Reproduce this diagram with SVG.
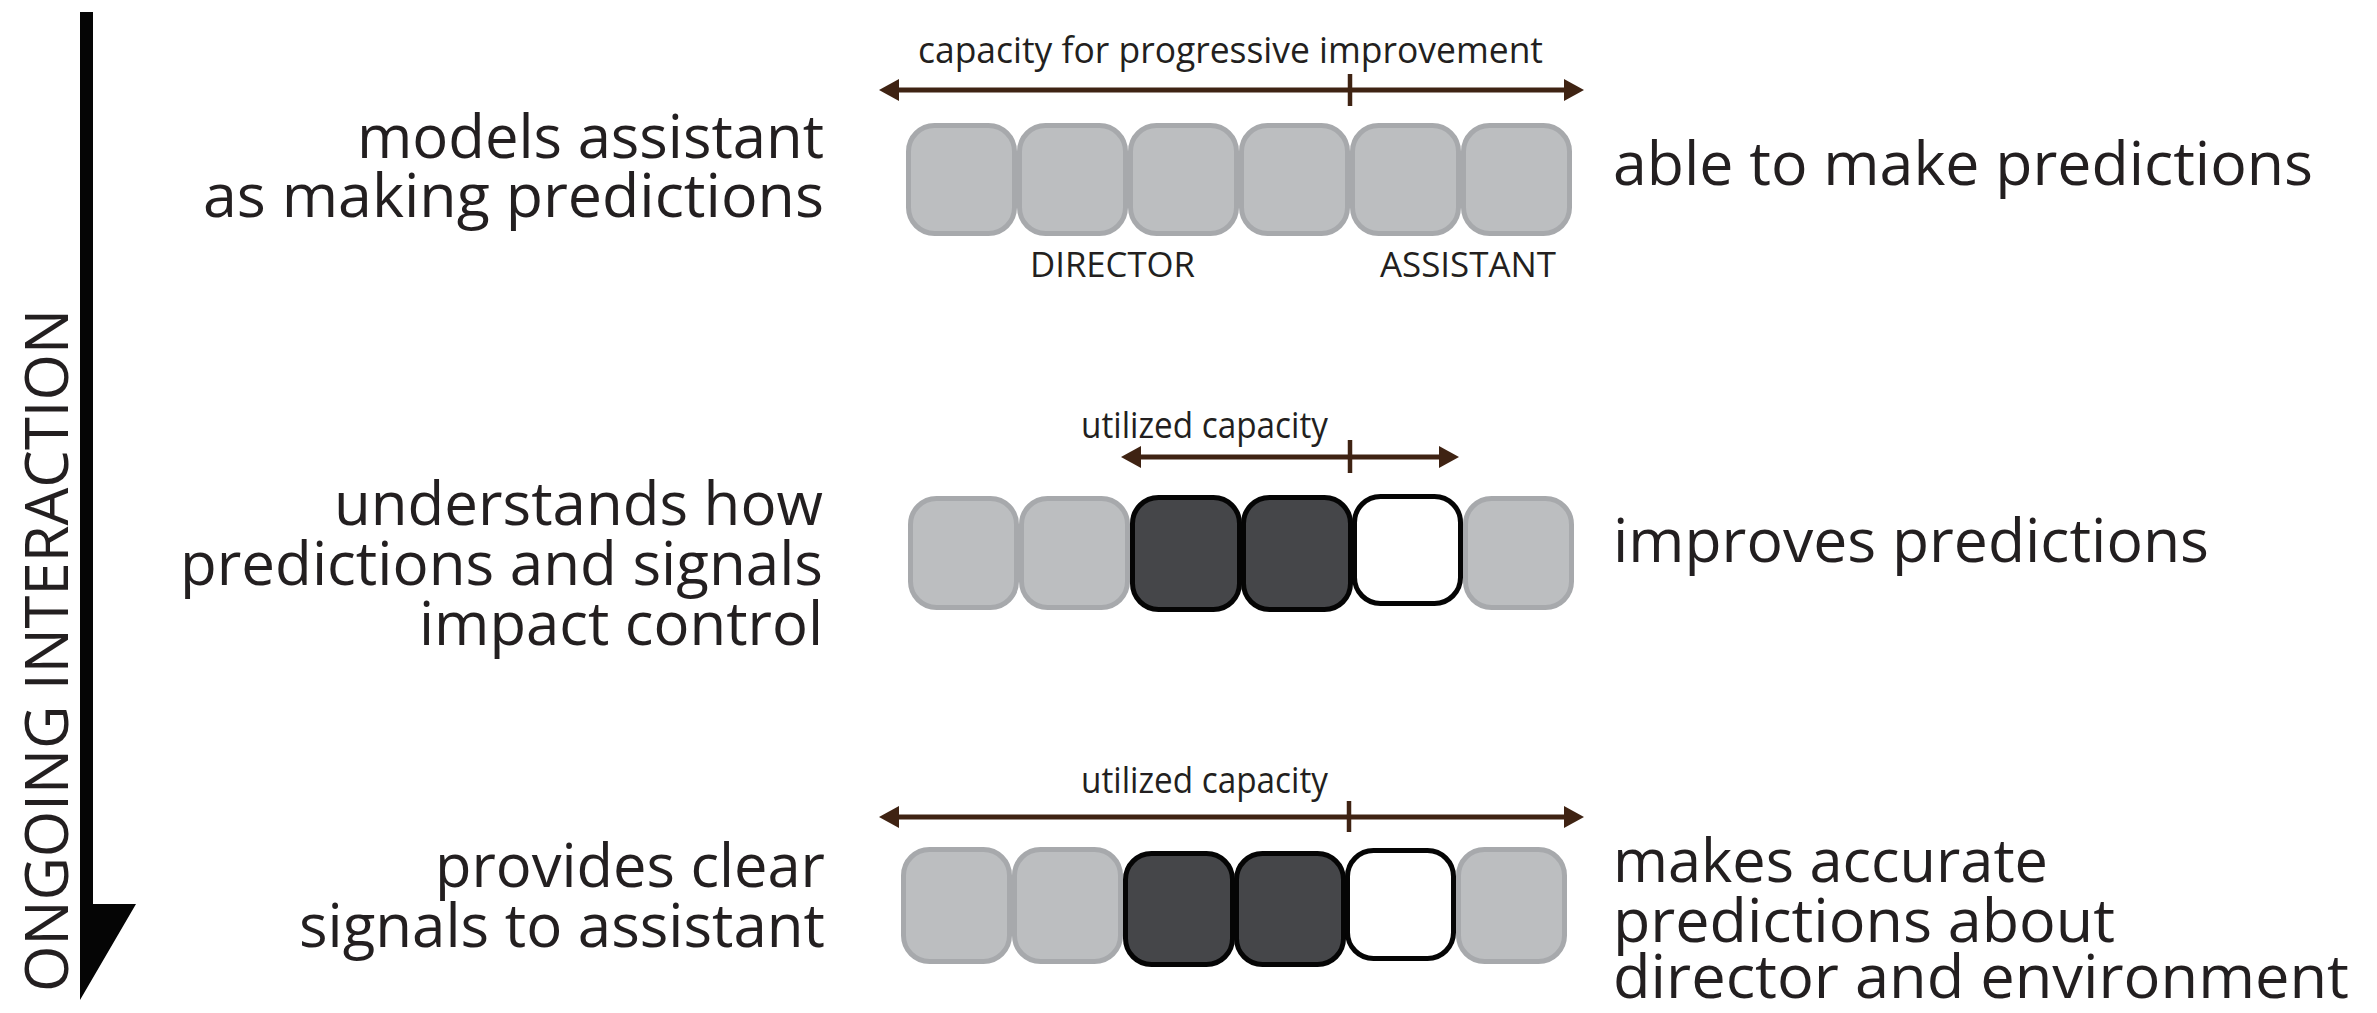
<svg xmlns="http://www.w3.org/2000/svg" width="2377" height="1013" viewBox="0 0 2377 1013">
<style>
text{font-family:"Open Sans","Noto Sans","Liberation Sans",sans-serif;fill:#231f20}
.big{font-size:61px}
.sm{font-size:37px}
.end{text-anchor:end}
.gray{fill:#bcbec0;stroke:#a7a9ac;stroke-width:5}
.dark{fill:#454649;stroke:#050505;stroke-width:5}
.white{fill:#ffffff;stroke:#050505;stroke-width:5}
.arr{stroke:#3f2313;stroke-width:5;fill:none}
.tick{stroke:#3f2313;stroke-width:4.5}
</style>
<defs>
<marker id="ah" viewBox="0 0 20 22" refX="2" refY="11" markerWidth="20" markerHeight="22" markerUnits="userSpaceOnUse" orient="auto-start-reverse">
<path d="M0,0 L20,11 L0,22 Z" fill="#3f2313"/>
</marker>
</defs>

<g id="time-axis">
<polygon points="80,12 93,12 93,904 136,904 80,1000" fill="#050505"/>
<text class="big" transform="translate(68,992) rotate(-90)" style="font-size:60px" textLength="683" lengthAdjust="spacingAndGlyphs">ONGOING INTERACTION</text>
</g>

<g id="connectors">
<line class="arr" x1="897" y1="90" x2="1566" y2="90" marker-start="url(#ah)" marker-end="url(#ah)"/>
<line class="tick" x1="1350" y1="74" x2="1350" y2="106"/>
<line class="arr" x1="1139" y1="457" x2="1441" y2="457" marker-start="url(#ah)" marker-end="url(#ah)"/>
<line class="tick" x1="1350" y1="440" x2="1350" y2="473"/>
<line class="arr" x1="897" y1="817" x2="1566" y2="817" marker-start="url(#ah)" marker-end="url(#ah)"/>
<line class="tick" x1="1349" y1="801" x2="1349" y2="832"/>
</g>

<g id="labels-row1">
<text class="sm" x="918" y="63" textLength="625" lengthAdjust="spacingAndGlyphs">capacity for progressive improvement</text>
<text class="sm" x="1030" y="277" style="font-size:35px" textLength="165" lengthAdjust="spacingAndGlyphs">DIRECTOR</text>
<text class="sm" x="1380" y="277" style="font-size:35px" textLength="176" lengthAdjust="spacingAndGlyphs">ASSISTANT</text>
</g>
<g id="labels-row2"><text class="sm" x="1081" y="438" textLength="247" lengthAdjust="spacingAndGlyphs">utilized capacity</text></g>
<g id="labels-row3"><text class="sm" x="1081" y="793" textLength="247" lengthAdjust="spacingAndGlyphs">utilized capacity</text></g>

<g id="row1">
<g id="r1-b1"><rect class="gray" x="908.5" y="125.5" width="106" height="108" rx="26"/></g>
<g id="r1-b2"><rect class="gray" x="1019.5" y="125.5" width="106" height="108" rx="26"/></g>
<g id="r1-b3"><rect class="gray" x="1130.5" y="125.5" width="106" height="108" rx="26"/></g>
<g id="r1-b4"><rect class="gray" x="1241.5" y="125.5" width="106" height="108" rx="26"/></g>
<g id="r1-b5"><rect class="gray" x="1352.5" y="125.5" width="106" height="108" rx="26"/></g>
<g id="r1-b6"><rect class="gray" x="1463.5" y="125.5" width="106" height="108" rx="26"/></g>
</g>

<g id="row2">
<g id="r2-b1"><rect class="gray" x="910.5" y="498.5" width="106" height="109" rx="26"/></g>
<g id="r2-b2"><rect class="gray" x="1021.5" y="498.5" width="106" height="109" rx="26"/></g>
<g id="r2-b6"><rect class="gray" x="1465.5" y="498.5" width="106" height="109" rx="26"/></g>
<g id="r2-b3"><rect class="dark" x="1132.5" y="497.5" width="107" height="112" rx="26"/></g>
<g id="r2-b4"><rect class="dark" x="1243.5" y="497.5" width="107" height="112" rx="26"/></g>
<g id="r2-b5"><rect class="white" x="1354.5" y="496.5" width="106" height="107" rx="26"/></g>
</g>

<g id="row3">
<g id="r3-b1"><rect class="gray" x="903.5" y="849.5" width="106" height="112" rx="26"/></g>
<g id="r3-b2"><rect class="gray" x="1014.5" y="849.5" width="106" height="112" rx="26"/></g>
<g id="r3-b6"><rect class="gray" x="1458.5" y="849.5" width="106" height="112" rx="26"/></g>
<g id="r3-b3"><rect class="dark" x="1125.5" y="853.5" width="107" height="111" rx="26"/></g>
<g id="r3-b4"><rect class="dark" x="1236.5" y="853.5" width="107" height="111" rx="26"/></g>
<g id="r3-b5"><rect class="white" x="1347.5" y="850.5" width="106" height="108" rx="26"/></g>
</g>

<g id="director-text">
<text class="big end" x="824" y="158" textLength="467" lengthAdjust="spacingAndGlyphs">models assistant</text>
<text class="big end" x="824" y="217" textLength="621" lengthAdjust="spacingAndGlyphs">as making predictions</text>
<text class="big end" x="823" y="525" textLength="489" lengthAdjust="spacingAndGlyphs">understands how</text>
<text class="big end" x="823" y="585" textLength="643" lengthAdjust="spacingAndGlyphs">predictions and signals</text>
<text class="big end" x="823" y="645" textLength="404" lengthAdjust="spacingAndGlyphs">impact control</text>
<text class="big end" x="825" y="887" textLength="390" lengthAdjust="spacingAndGlyphs">provides clear</text>
<text class="big end" x="825" y="947" textLength="526" lengthAdjust="spacingAndGlyphs">signals to assistant</text>
</g>

<g id="assistant-text">
<text class="big" x="1613" y="185" textLength="700" lengthAdjust="spacingAndGlyphs">able to make predictions</text>
<text class="big" x="1613" y="562" textLength="596" lengthAdjust="spacingAndGlyphs">improves predictions</text>
<text class="big" x="1613" y="882" textLength="435" lengthAdjust="spacingAndGlyphs">makes accurate</text>
<text class="big" x="1613" y="942" textLength="502" lengthAdjust="spacingAndGlyphs">predictions about</text>
<text class="big" x="1613" y="998" style="font-size:60px" textLength="736" lengthAdjust="spacingAndGlyphs">director and environment</text>
</g>
</svg>
